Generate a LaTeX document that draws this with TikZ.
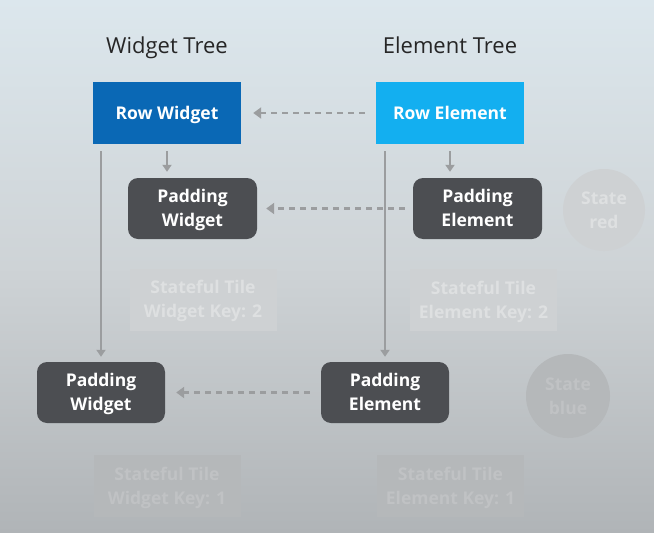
\documentclass[tikz,border=0pt]{standalone}
\usepackage{fontspec}
\setmainfont{Open Sans}
\usetikzlibrary{arrows.meta,calc}
\definecolor{rowwidget}{RGB}{10,104,181}
\definecolor{rowelement}{RGB}{19,175,240}
\definecolor{darkbox}{RGB}{76,78,82}
\definecolor{arrowgray}{RGB}{155,157,159}
\definecolor{bgtop}{RGB}{220,231,237}
\definecolor{bgmid}{RGB}{206,211,214}
\definecolor{bgbot}{RGB}{176,180,183}
\definecolor{fadeAfill}{RGB}{206,209,211}
\definecolor{fadeAtext}{RGB}{222,224,225}
\definecolor{fadeBfill}{RGB}{181,184,186}
\definecolor{fadeBtext}{RGB}{192,194,196}
\tikzset{
  title/.style={font=\fontsize{22}{26}\selectfont, text=black!85, anchor=base},
  rowbox/.style={minimum width=148pt, minimum height=62pt, inner sep=0pt, text height=14pt, text depth=1pt, text=white, font=\bfseries\fontsize{17.5}{20}\selectfont},
  padbox/.style={fill=darkbox, rounded corners=10pt, minimum width=129pt, minimum height=61pt, inner sep=0pt, text depth=0.5pt, text=white, align=center, font=\bfseries\fontsize{17.5}{24}\selectfont},
  fadebox/.style={minimum width=147pt, minimum height=62pt, inner sep=0pt, text depth=0.5pt, align=center, font=\bfseries\fontsize{17.5}{24}\selectfont},
  fadeA/.style={fadebox, fill=fadeAfill, text=fadeAtext},
  fadeB/.style={fadebox, fill=fadeBfill, text=fadeBtext},
  statecirc/.style={circle, minimum size=#1, inner sep=0pt, text depth=0.5pt, align=center, font=\bfseries\fontsize{17.5}{24}\selectfont},
  solidarrow/.style={draw=arrowgray, line width=2pt, -{Triangle[length=7pt,width=9pt]}},
  dasharrow/.style={draw=arrowgray, line width=2.4pt, dash pattern=on 6pt off 5pt, -{Triangle[length=8pt,width=11pt]}},
}
\begin{document}
\begin{tikzpicture}[x=1pt,y=-1pt]
\useasboundingbox (0,0) rectangle (654,533);
\fill[top color=bgtop, bottom color=bgbot, middle color=bgmid] (0,0) rectangle (654,533);
% titles
\node[title] (wt) at (167,53) {Widget Tree};
\node[title] (et) at (450,53) {Element Tree};
% main boxes
\node[rowbox, fill=rowwidget] (roww) at (167,113) {Row Widget};
\node[rowbox, fill=rowelement] (rowe) at (450,113) {Row Element};
\node[padbox] (padw1) at (192.5,208.5) {Padding\\Widget};
\node[padbox] (pade1) at (477.5,208.5) {Padding\\Element};
\node[padbox, minimum width=128pt] (padw2) at (101,392.5) {Padding\\Widget};
\node[padbox, minimum width=128pt] (pade2) at (385,392.5) {Padding\\Element};
% faded boxes
\node[fadeA] (stw2) at (203,299.5) {Stateful Tile\\Widget Key: 2};
\node[fadeA] (ste2) at (483.5,300) {Stateful Tile\\Element Key: 2};
\node[fadeB] (stw1) at (167,486) {Stateful Tile\\Widget Key: 1};
\node[fadeB] (ste1) at (450.5,486) {Stateful Tile\\Element Key: 1};
\node[statecirc=82pt, fill=fadeAfill, text=fadeAtext] (sred) at (604,210) {State\\red};
\node[statecirc=84pt, fill=fadeBfill, text=fadeBtext] (sblue) at (568,396) {State\\blue};
% solid arrows
\draw[solidarrow, shorten <=7pt, shorten >=6pt] (roww.south) -- (roww.south |- padw1.north);
\draw[solidarrow, shorten <=7pt, shorten >=6pt] (rowe.south) -- (rowe.south |- pade1.north);
\draw[solidarrow, shorten <=7pt, shorten >=5pt] (padw2.north |- roww.south) -- (padw2.north);
\draw[solidarrow, shorten <=7pt, shorten >=5pt] (pade2.north |- rowe.south) -- (pade2.north);
% dashed arrows
\draw[dasharrow, shorten <=11pt, shorten >=12pt] (rowe.west) -- (roww.east);
\draw[dasharrow, shorten <=8pt, shorten >=9pt] (pade1.west) -- (padw1.east);
\draw[dasharrow, shorten <=11pt, shorten >=11pt] (pade2.west) -- (padw2.east);
\end{tikzpicture}
\end{document}
